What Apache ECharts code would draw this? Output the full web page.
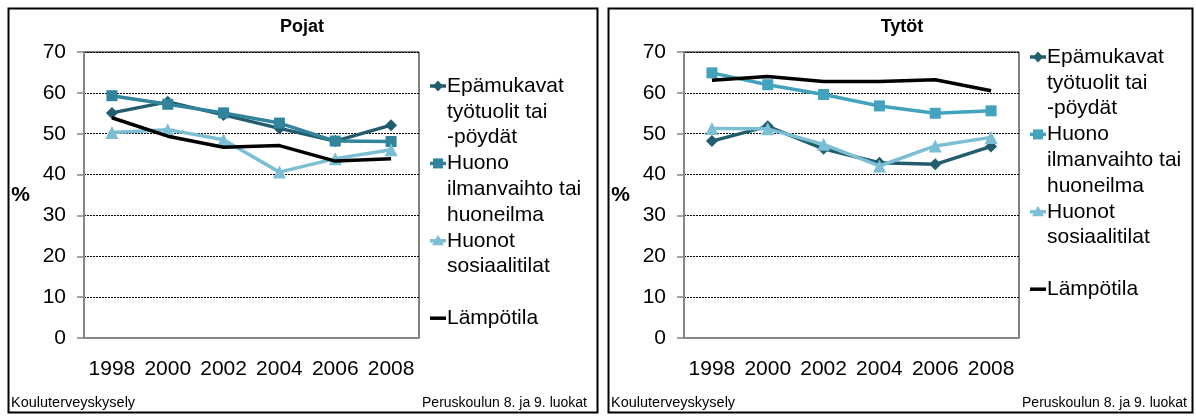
<!DOCTYPE html>
<html>
<head>
<meta charset="utf-8">
<script src="https://cdn.jsdelivr.net/npm/echarts@6/dist/echarts.min.js"></script>
<style>
html, body { margin: 0; padding: 0; background: #fff; }
#chart { width: 1196px; height: 416px; }
</style>
</head>
<body>
<div id="chart"></div>
<script>
// data
var years = ['1998', '2000', '2002', '2004', '2006', '2008'];
var seriesNames = ['Epämukavat työtuolit tai -pöydät', 'Huono ilmanvaihto tai huoneilma', 'Huonot sosiaalitilat', 'Lämpötila'];
var legendLines = [['Epämukavat', 'työtuolit tai', '-pöydät'], ['Huono', 'ilmanvaihto tai', 'huoneilma'], ['Huonot', 'sosiaalitilat'], ['Lämpötila']];
var yTicks = [0, 10, 20, 30, 40, 50, 60, 70];

var pojatEpamukavat = [55.1, 57.8, 54.6, 51.3, 48.2, 52.1];
var pojatIlmanvaihto = [59.3, 57.2, 55.1, 52.6, 48.2, 48.1];
var pojatSosiaalitilat = [50.3, 51.0, 48.5, 40.6, 43.9, 46.1];
var pojatLampotila = [53.9, 49.4, 46.7, 47.1, 43.3, 43.9];

var tytotEpamukavat = [48.2, 51.8, 46.3, 42.9, 42.5, 46.9];
var tytotIlmanvaihto = [64.9, 62.0, 59.6, 56.8, 55.0, 55.6];
var tytotSosiaalitilat = [51.3, 51.2, 47.4, 42.1, 47.0, 49.1];
var tytotLampotila = [63.1, 64.0, 62.8, 62.8, 63.2, 60.5];

var myChart = echarts.init(document.getElementById('chart'));

var font = 'Arial, "Liberation Sans", sans-serif';
var cDark = '#215d6c';
var cLight = '#7cbfd4';
var panels = [
	{ title: 'Pojat', x: 0, data: [pojatEpamukavat, pojatIlmanvaihto, pojatSosiaalitilat, pojatLampotila], square: '#31849b', legendTop: 86 },
	{ title: 'Tytöt', x: 600, data: [tytotEpamukavat, tytotIlmanvaihto, tytotSosiaalitilat, tytotLampotila], square: '#43a3bd', legendTop: 57 }
];
var symbols = ['diamond', 'rect', 'triangle', 'none'];
var symbolSizes = [12, 11, 13, 0];
var legendRow = [0, 3, 6, 9];
var lh = 25.8;

var grids = [], xAxes = [], yAxes = [], series = [], graphics = [];

panels.forEach(function (p, pi) {
	var colors = [cDark, p.square, cLight, '#000'];
	grids.push({
		left: 84 + p.x, top: 52, width: 335, height: 286,
		show: true, borderColor: '#000', borderWidth: 1, backgroundColor: 'transparent'
	});
	xAxes.push({
		type: 'category', gridIndex: pi, data: years,
		axisLine: { lineStyle: { color: '#868686', width: 2 } },
		axisTick: { length: 6, lineStyle: { color: '#868686', width: 1.5 } },
		axisLabel: { color: '#000', fontSize: 21, fontFamily: font, margin: 21, interval: 0 }
	});
	yAxes.push({
		type: 'value', gridIndex: pi, min: 0, max: 70, interval: 10,
		name: '%', nameLocation: 'middle', nameGap: 54, nameRotate: 0,
		nameTextStyle: { color: '#000', fontSize: 21, fontWeight: 'bold', fontFamily: font },
		axisLine: { show: true, lineStyle: { color: '#868686', width: 2 } },
		axisTick: { show: true, length: 7, lineStyle: { color: '#868686', width: 1.5 } },
		axisLabel: { color: '#000', fontSize: 21, fontFamily: font, margin: 18,
			formatter: function (v) { return yTicks.indexOf(v) >= 0 ? v : ''; } },
		splitLine: { lineStyle: { color: '#000', type: [2, 1], width: 1 } }
	});
	p.data.forEach(function (d, si) {
		series.push({
			name: seriesNames[si], type: 'line', xAxisIndex: pi, yAxisIndex: pi,
			data: d, symbol: symbols[si], symbolSize: symbolSizes[si],
			lineStyle: { color: colors[si], width: 3.5 },
			itemStyle: { color: colors[si] },
			z: 2 + si, animation: false
		});
	});

	// panel frame, title, footer
	graphics.push({
		type: 'rect', left: p.x + 6, top: 6,
		shape: { width: pi === 0 ? 589 : 584, height: 404 },
		style: { fill: 'none', stroke: '#000', lineWidth: 2 }
	});
	graphics.push({
		type: 'text', x: p.x + 302, y: 27,
		style: { text: p.title, font: 'bold 18px ' + font, fill: '#000', textAlign: 'center', textVerticalAlign: 'middle' }
	});
	graphics.push({
		type: 'text', x: p.x + 11, y: 403,
		style: { text: 'Kouluterveyskysely', font: '14.5px ' + font, fill: '#000', textVerticalAlign: 'middle' }
	});
	graphics.push({
		type: 'text', x: p.x + 587, y: 403,
		style: { text: 'Peruskoulun 8. ja 9. luokat', font: '14px ' + font, fill: '#000', textAlign: 'right', textVerticalAlign: 'middle' }
	});

	// legend
	legendLines.forEach(function (lines, si) {
		var y0 = p.legendTop + legendRow[si] * lh;
		var lx = p.x + 430;
		graphics.push({
			type: 'line', shape: { x1: lx, y1: y0, x2: lx + 16, y2: y0 },
			style: { stroke: colors[si], lineWidth: 3.5 }
		});
		var mx = lx + 8;
		if (symbols[si] === 'diamond') {
			graphics.push({ type: 'polygon', shape: { points: [[mx, y0 - 5.5], [mx + 5, y0], [mx, y0 + 5.5], [mx - 5, y0]] }, style: { fill: colors[si] } });
		} else if (symbols[si] === 'rect') {
			graphics.push({ type: 'rect', shape: { x: mx - 5, y: y0 - 5, width: 10, height: 10 }, style: { fill: colors[si] } });
		} else if (symbols[si] === 'triangle') {
			graphics.push({ type: 'polygon', shape: { points: [[mx, y0 - 6], [mx + 6, y0 + 4.5], [mx - 6, y0 + 4.5]] }, style: { fill: colors[si] } });
		}
		lines.forEach(function (t, li) {
			graphics.push({
				type: 'text', x: p.x + 447, y: y0 + li * lh,
				style: { text: t, font: '21px ' + font, fill: '#000', textVerticalAlign: 'middle' }
			});
		});
	});
});

var option = {
	backgroundColor: '#fff',
	animation: false,
	grid: grids,
	xAxis: xAxes,
	yAxis: yAxes,
	series: series,
	graphic: graphics
};

myChart.setOption(option);
</script>
</body>
</html>
